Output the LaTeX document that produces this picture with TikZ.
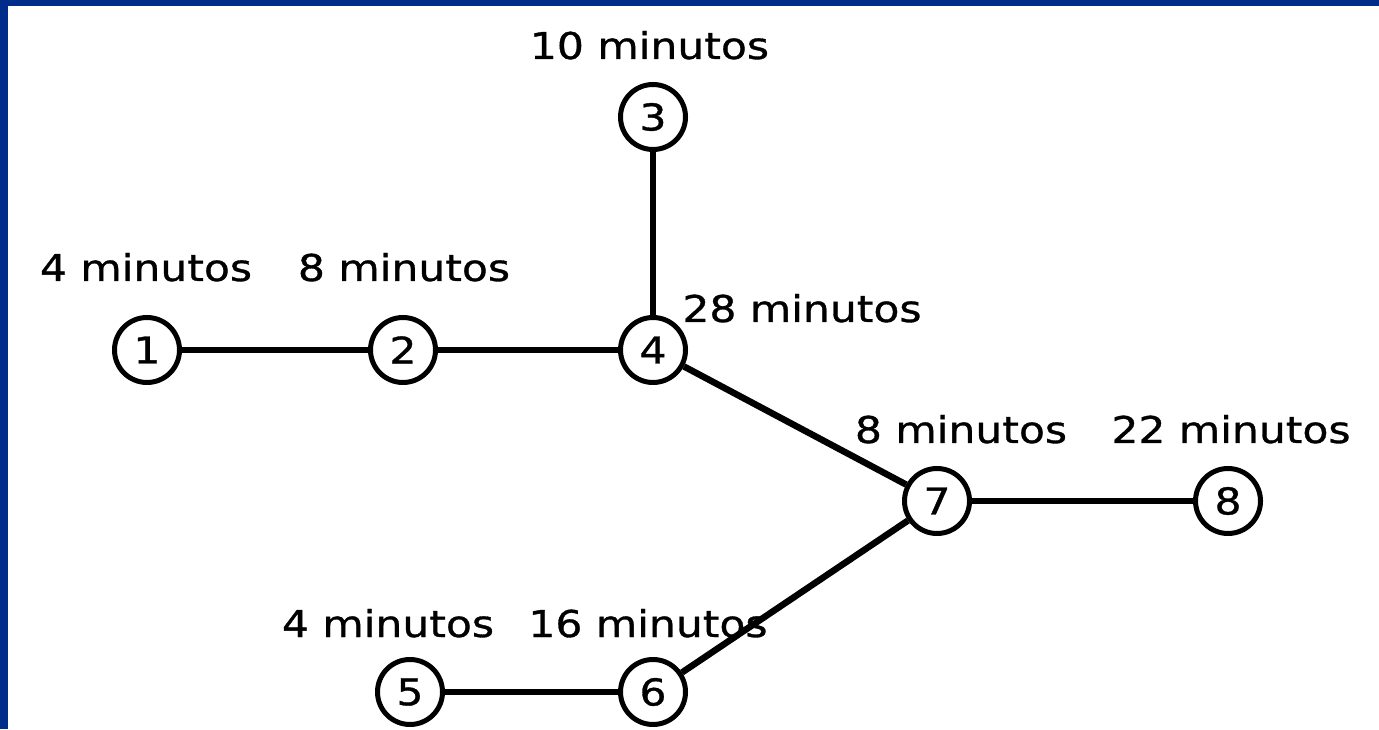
\documentclass[tikz,border=0pt]{standalone}
\usepackage{fontspec}
\setmainfont{DejaVu Sans}[FakeStretch=1.15,FakeBold=0.9]
\usepackage{tikz}
\usetikzlibrary{positioning}
\definecolor{slideblue}{RGB}{0,45,137}

\begin{document}
\begin{tikzpicture}[
	etapa/.style={circle,draw,line width=0.1cm,minimum size=1.3cm,inner sep=0pt,fill=white,font=\fontsize{21}{21}\selectfont},
	tiempo/.style={anchor=base,inner sep=0pt,font=\fontsize{21}{21}\selectfont},
	enlace/.style={line width=0.13cm}]
			\useasboundingbox (0,0) rectangle (27.58,14.58);
			\fill[slideblue] (0,0) rectangle (27.58,14.58);
			\fill[white] (0.16,0) rectangle (27.58,14.46);
			% etapas
			\node[etapa] (n1) at (2.94,7.58) {1};
			\node[etapa] (n2) at (8.06,7.58) {2};
			\node[etapa] (n3) at (13.06,12.24) {3};
			\node[etapa] (n4) at (13.06,7.58) {4};
			\node[etapa] (n5) at (8.20,0.74) {5};
			\node[etapa] (n6) at (13.06,0.74) {6};
			\node[etapa] (n7) at (18.74,4.56) {7};
			\node[etapa] (n8) at (24.56,4.56) {8};
			% enlaces
			\draw[enlace] (n1)--(n2);
			\draw[enlace] (n2)--(n4);
			\draw[enlace] (n3)--(n4);
			\draw[enlace] (n4)--(n7);
			\draw[enlace] (n7)--(n8);
			\draw[enlace] (n5)--(n6);
			\draw[enlace] (n6)--(n7);
			% tiempos
			\node[tiempo] (t1) at (2.92,8.96) {4 minutos};
			\node[tiempo] (t2) at (8.08,8.96) {8 minutos};
			\node[tiempo] (t3) at (12.99,13.40) {10 minutos};
			\node[tiempo] (t4) at (16.04,8.14) {28 minutos};
			\node[tiempo] (t5) at (7.76,1.84) {4 minutos};
			\node[tiempo] (t6) at (12.96,1.84) {16 minutos};
			\node[tiempo] (t7) at (19.22,5.72) {8 minutos};
			\node[tiempo] (t8) at (24.62,5.72) {22 minutos};
		\end{tikzpicture}
\end{document}
